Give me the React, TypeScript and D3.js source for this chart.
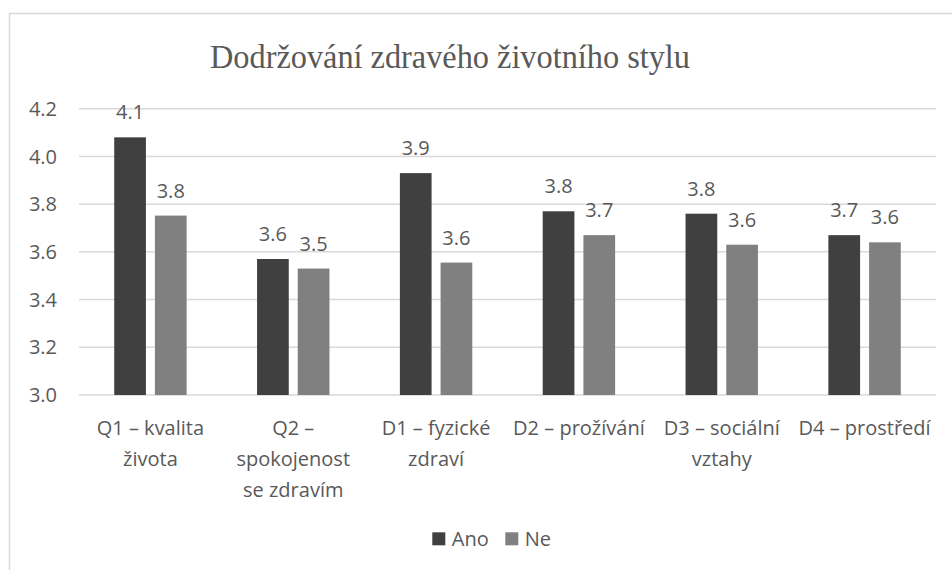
import * as d3 from "d3";

const title = "Dodržování zdravého životního stylu";
const categories = [
  "Q1 – kvalita\nživota",
  "Q2 –\nspokojenost\nse zdravím",
  "D1 – fyzické\nzdraví",
  "D2 – prožívání",
  "D3 – sociální\nvztahy",
  "D4 – prostředí",
];
const seriesNames = ["Ano", "Ne"];
const ano = [4.08, 3.57, 3.93, 3.77, 3.76, 3.67];
const ne = [3.752, 3.53, 3.555, 3.67, 3.63, 3.64];
const yTicks = [3.0, 3.2, 3.4, 3.6, 3.8, 4.0, 4.2];
const colors = ["#404040", "#808080"];

const W = 952;
const H = 570;
const left = 79;
const right = 936;
const top = 108.7;
const bottom = 395;
const font = "'Open Sans', sans-serif";
const textColor = "#595959";

export default function App() {
  const x = d3.scaleBand<string>().domain(categories).range([left, right]);
  const y = d3.scaleLinear().domain([3.0, 4.2]).range([bottom, top]);
  const fmt = d3.format(".1f");
  const values = [ano, ne];
  const groupHalf = 36.2;

  return (
    <svg
      width={W}
      height={H}
      style={{ position: "absolute", left: 0, top: 0, display: "block", background: "#fff" }}
    >
      <rect x={9.5} y={13.5} width={W + 10} height={H + 10} fill="#fff" stroke="#d9d9d9" strokeWidth={1.5} />
      <text
        x={450}
        y={67.5}
        textAnchor="middle"
        fontFamily="'Liberation Serif', 'Times New Roman', serif"
        fontSize={33.5}
        textLength={480}
        lengthAdjust="spacingAndGlyphs"
        fill={textColor}
      >
        {title}
      </text>

      {yTicks.map((t) => (
        <g key={t}>
          <line x1={left} x2={right} y1={y(t)} y2={y(t)} stroke="#d9d9d9" strokeWidth={1.5} />
          <text
            x={57}
            y={y(t)}
            dy="0.36em"
            textAnchor="end"
            fontFamily={font}
            fontSize={20}
            fill={textColor}
          >
            {fmt(t)}
          </text>
        </g>
      ))}

      {categories.map((c, i) => {
        const cx = (x(c) as number) + x.bandwidth() / 2;
        const sx = d3
          .scaleBand<string>()
          .domain(seriesNames)
          .range([cx - groupHalf, cx + groupHalf])
          .paddingInner(0.221);
        return (
          <g key={c}>
            {seriesNames.map((s, k) => {
              const v = values[k][i];
              const bx = sx(s) as number;
              return (
                <g key={s}>
                  <rect
                    x={bx}
                    y={y(v)}
                    width={sx.bandwidth()}
                    height={bottom - y(v)}
                    fill={colors[k]}
                  />
                  <text
                    x={bx + sx.bandwidth() / 2}
                    y={y(v) - 18}
                    textAnchor="middle"
                    fontFamily={font}
                    fontSize={20}
                    fill={textColor}
                  >
                    {fmt(v)}
                  </text>
                </g>
              );
            })}
            <text textAnchor="middle" fontFamily={font} fontSize={20} fill={textColor}>
              {c.split("\n").map((line, j) => (
                <tspan key={j} x={cx} y={435 + j * 31}>
                  {line}
                </tspan>
              ))}
            </text>
          </g>
        );
      })}

      {seriesNames.map((s, k) => {
        const lx = [432.3, 505.3][k];
        return (
          <g key={s}>
            <rect x={lx} y={532.3} width={13} height={13} fill={colors[k]} />
            <text x={lx + 19.5} y={545.5} fontFamily={font} fontSize={20} fill={textColor}>
              {s}
            </text>
          </g>
        );
      })}
    </svg>
  );
}
